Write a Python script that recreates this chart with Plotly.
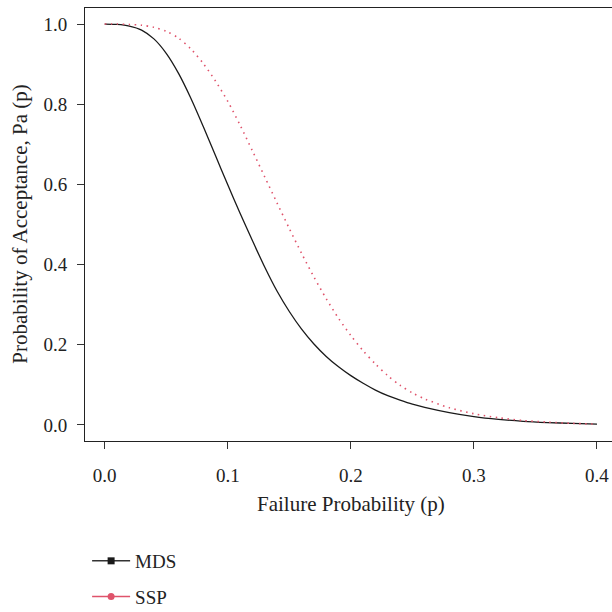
import plotly.graph_objects as go

# Failure probability grid and acceptance probabilities
p_mds = [0, 0.01, 0.02, 0.03, 0.04, 0.05, 0.06, 0.07, 0.08, 0.09, 0.10, 0.11, 0.12,
         0.13, 0.14, 0.15, 0.16, 0.17, 0.18, 0.19, 0.20, 0.21, 0.22, 0.23, 0.24, 0.25,
         0.26, 0.28, 0.30, 0.32, 0.34, 0.36, 0.38, 0.40]
pa_mds = [1.0, 0.999, 0.995, 0.985, 0.963, 0.927, 0.877, 0.815, 0.745, 0.672, 0.599,
          0.528, 0.460, 0.394, 0.334, 0.283, 0.239, 0.202, 0.171, 0.145, 0.123, 0.104,
          0.087, 0.073, 0.062, 0.052, 0.044, 0.031, 0.021, 0.014, 0.009, 0.006, 0.004,
          0.002]

p_ssp = [0, 0.01, 0.02, 0.03, 0.04, 0.05, 0.06, 0.07, 0.08, 0.09, 0.10, 0.11, 0.12,
         0.13, 0.14, 0.15, 0.16, 0.17, 0.18, 0.19, 0.20, 0.21, 0.22, 0.23, 0.24, 0.25,
         0.26, 0.28, 0.30, 0.32, 0.34, 0.36, 0.38, 0.40]
pa_ssp = [1.0, 1.0, 0.999, 0.997, 0.992, 0.982, 0.965, 0.938, 0.902, 0.858, 0.807,
          0.748, 0.684, 0.619, 0.554, 0.490, 0.428, 0.369, 0.315, 0.266, 0.223, 0.185,
          0.152, 0.123, 0.099, 0.080, 0.065, 0.043, 0.028, 0.018, 0.011, 0.007, 0.004,
          0.002]

series_names = ["MDS", "SSP"]
x_ticks = [0.0, 0.1, 0.2, 0.3, 0.4]
y_ticks = [0.0, 0.2, 0.4, 0.6, 0.8, 1.0]

FONT = "Liberation Serif"
BLACK = "#1a1a1a"
RED = "#DF536B"
TXT = "#222222"

fig = go.Figure()
fig.add_trace(go.Scatter(x=p_mds, y=pa_mds, mode="lines",
                         line=dict(color=BLACK, width=1.3, shape="spline", smoothing=0.8),
                         showlegend=False))
fig.add_trace(go.Scatter(x=p_ssp, y=pa_ssp, mode="lines",
                         line=dict(color=RED, width=1.6, dash="1.5px,4.5px", shape="spline", smoothing=0.8),
                         showlegend=False))
# legend entries
fig.add_trace(go.Scatter(x=[None], y=[None], mode="lines+markers", name=series_names[0], legendgroup="a",
                         line=dict(color="#333333", width=1.5),
                         marker=dict(symbol="square", size=7, color=BLACK)))
fig.add_trace(go.Scatter(x=[None], y=[None], mode="lines+markers", name=series_names[1], legendgroup="b",
                         line=dict(color=RED, width=1.5),
                         marker=dict(symbol="circle", size=7, color=RED)))

fig.update_layout(
    width=612, height=612,
    margin=dict(l=85, r=0, t=8, b=171),
    plot_bgcolor="white", paper_bgcolor="white",
    font=dict(family=FONT, size=19, color=TXT),
    showlegend=True,
    legend=dict(x=0.004, y=0.1144, xref="paper", yref="container", xanchor="left", yanchor="top",
                traceorder="grouped", tracegroupgap=8, font=dict(family=FONT, size=19, color=TXT),
                bgcolor="rgba(0,0,0,0)", itemwidth=38),
    xaxis=dict(range=[-0.016, 0.4122], tickvals=x_ticks, ticktext=[f"{v:.1f}" for v in x_ticks],
               ticks="outside", ticklen=7, tickwidth=1, tickcolor="#333333",
               showline=True, linecolor=TXT, linewidth=1, mirror=True,
               showgrid=False, zeroline=False, ticklabelstandoff=10),
    yaxis=dict(range=[-0.04, 1.04], tickvals=y_ticks, ticktext=[f"{v:.1f}" for v in y_ticks],
               ticks="outside", ticklen=7, tickwidth=1, tickcolor="#333333",
               showline=True, linecolor=TXT, linewidth=1,
               showgrid=False, zeroline=False, ticklabelstandoff=6),
    annotations=[
        dict(text="Failure Probability (p)", xref="x", yref="paper", x=0.2, y=-0.1455,
             xanchor="center", yanchor="middle", showarrow=False,
             font=dict(family=FONT, size=21, color=TXT)),
        dict(text="Probability of Acceptance, Pa (p)", xref="paper", yref="paper", x=-0.125, y=0.5,
             xanchor="center", yanchor="middle", textangle=-90, showarrow=False,
             font=dict(family=FONT, size=21, color=TXT)),
    ],
)

fig.write_html("out.html", config={"displayModeBar": False},
               post_script="document.body.style.margin='0px';")
